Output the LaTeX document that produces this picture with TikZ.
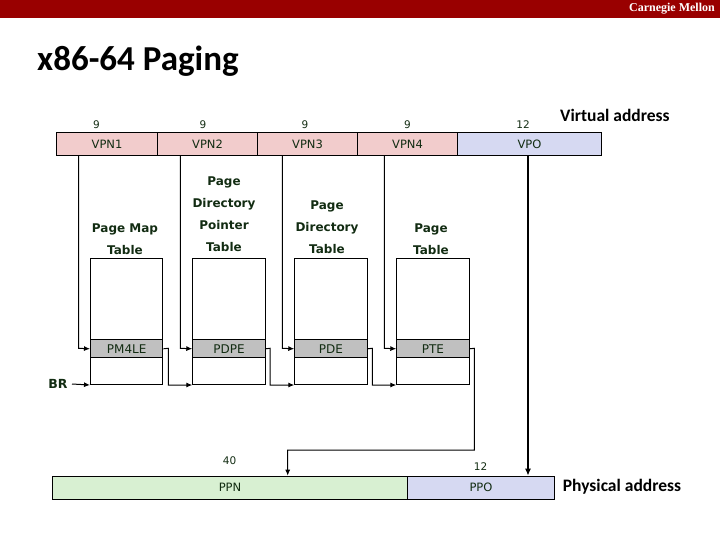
\documentclass[tikz,border=0pt]{standalone}
\usepackage{fontspec}
\setmainfont{DejaVu Sans}
\newfontfamily\titlefont{Carlito}
\newfontfamily\cmufont{Liberation Serif}
\usetikzlibrary{arrows.meta}
\definecolor{cmured}{RGB}{153,0,0}
\definecolor{vpnpink}{RGB}{242,204,204}
\definecolor{offblue}{RGB}{214,217,242}
\definecolor{ppngreen}{RGB}{216,240,210}
\definecolor{entrygray}{RGB}{192,192,192}
\definecolor{lbl}{RGB}{18,44,18}
\tikzset{
  seg/.style={draw, line width=1pt, inner sep=0pt, minimum height=23pt, anchor=north west,
    text=lbl, font=\fontsize{11.5}{13}\selectfont},
  bits/.style={inner sep=0pt, text=lbl, font=\fontsize{10.5}{12}\selectfont},
  tbl/.style={draw, line width=1pt, inner sep=0pt, minimum width=72.4pt, minimum height=126pt, anchor=north west},
  entry/.style={draw, line width=1pt, fill=entrygray, inner sep=0pt, minimum width=72.4pt, minimum height=18pt,
    anchor=north west, text=lbl, font=\fontsize{12}{14}\selectfont},
  ttl/.style={inner sep=0pt, anchor=south, align=center, text=lbl, font=\bfseries\fontsize{12}{22}\selectfont},
  big/.style={inner sep=0pt, anchor=west, font=\titlefont\bfseries\fontsize{17.5}{20}\selectfont},
  arr/.style={line width=1pt, -{Latex[length=6pt,width=5pt]}},
  thickarr/.style={line width=1.8pt, -{Latex[length=7pt,width=6pt]}}
}
\begin{document}
\begin{tikzpicture}[x=1pt,y=-1pt]
\useasboundingbox (0,0) rectangle (720,540);
% header
\fill[cmured] (0,0) rectangle (720,18);
\node[anchor=east, inner sep=0pt, text=white, font=\cmufont\bfseries\fontsize{12}{14}\selectfont] (cmu) at (715,9) {Carnegie Mellon};
\node[anchor=base west, inner sep=0pt, font=\titlefont\bfseries\fontsize{35}{40}\selectfont] (title) at (37,71) {x86-64 Paging};

% virtual address
\node[seg, fill=vpnpink, minimum width=101pt] (vpn1) at (56,132) {VPN1};
\node[seg, fill=vpnpink, minimum width=100pt] (vpn2) at (157,132) {VPN2};
\node[seg, fill=vpnpink, minimum width=100pt] (vpn3) at (257,132) {VPN3};
\node[seg, fill=vpnpink, minimum width=100pt] (vpn4) at (357,132) {VPN4};
\node[seg, fill=offblue, minimum width=144pt] (vpo) at (457,132) {VPO};
\node[bits] (b1) at (96.5,125) {9};
\node[bits] (b2) at (203,125) {9};
\node[bits] (b3) at (305,125) {9};
\node[bits] (b4) at (407.5,125) {9};
\node[bits] (b5) at (523,125) {12};
\node[big] (va) at (560,115) {Virtual address};

% tables
\node[tbl] (t1) at (90,258) {};
\node[tbl] (t2) at (192.3,258) {};
\node[tbl] (t3) at (294.3,258) {};
\node[tbl] (t4) at (396.3,258) {};
\node[entry] (e1) at (90,339.3) {PM4LE};
\node[entry] (e2) at (192.3,339.3) {PDPE};
\node[entry] (e3) at (294.3,339.3) {PDE};
\node[entry] (e4) at (396.3,339.3) {PTE};
\node[ttl] (n1) at (125,255) {Page Map\\Table};
\node[ttl] (n2) at (224,252) {Page\\Directory\\Pointer\\Table};
\node[ttl] (n3) at (327,254) {Page\\Directory\\Table};
\node[ttl] (n4) at (431,255) {Page\\Table};

% VPN connectors
\coordinate (d1) at (78.7,348.3);
\coordinate (d2) at (180.3,348.3);
\coordinate (d3) at (282.3,348.3);
\coordinate (d4) at (384.3,348.3);
\draw[arr] (vpn1.south -| d1) -- (d1) -- (e1.west);
\draw[arr] (vpn2.south -| d2) -- (d2) -- (e2.west);
\draw[arr] (vpn3.south -| d3) -- (d3) -- (e3.west);
\draw[arr] (vpn4.south -| d4) -- (d4) -- (e4.west);

% BR
\node[inner sep=0pt, text=lbl, font=\bfseries\fontsize{12.5}{14}\selectfont] (br) at (58,384) {BR};
\coordinate (brs) at (72,384);
\draw[arr] (brs) -- (t1.south west);

% entry to next table base
\coordinate (c1) at (168.3,348.3);
\coordinate (c2) at (270,348.3);
\coordinate (c3) at (372.3,348.3);
\coordinate (c4) at (474.3,348.3);
\draw[arr] (e1.east) -- (c1) -- (c1 |- t2.south west) -- (t2.south west);
\draw[arr] (e2.east) -- (c2) -- (c2 |- t3.south west) -- (t3.south west);
\draw[arr] (e3.east) -- (c3) -- (c3 |- t4.south west) -- (t4.south west);

% physical address
\node[seg, fill=ppngreen, minimum width=354.4pt] (ppn) at (52.3,475.7) {PPN};
\node[seg, fill=offblue, minimum width=147.6pt] (ppo) at (406.7,475.7) {PPO};
\node[bits] (p1) at (229.5,461) {40};
\node[bits] (p2) at (480.5,467) {12};
\node[big] (pa) at (562.7,487) {Physical address};

\coordinate (k1) at (474.3,450);
\coordinate (k2) at (287.7,450);
\draw[arr] (e4.east) -- (c4) -- (k1) -- (k2) -- (k2 |- ppn.north);
\coordinate (v1) at (528,155);
\draw[thickarr] (vpo.south -| v1) -- (ppo.north -| v1);
\end{tikzpicture}
\end{document}
